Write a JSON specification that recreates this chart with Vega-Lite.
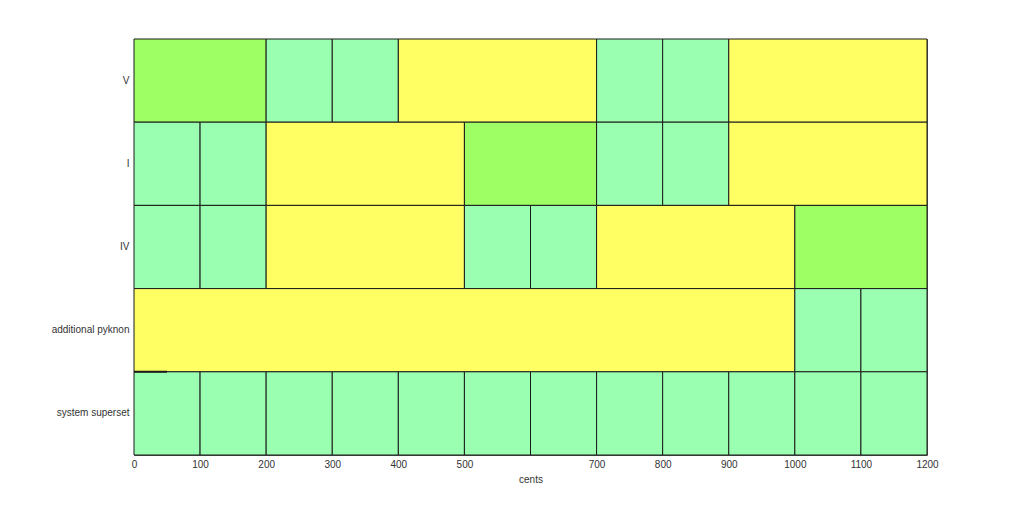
{
  "$schema": "https://vega.github.io/schema/vega-lite/v6.json",
  "width": 793,
  "height": 416,
  "autosize": {"type": "none"},
  "padding": {"left": 134, "top": 39, "right": 97, "bottom": 57},
  "background": "white",
  "config": {
    "view": {"stroke": "#555555", "strokeWidth": 1},
    "font": "Liberation Sans"
  },
  "datasets": {
    "cells": [
      {"row": "V", "start": 0, "end": 200, "kind": "root"},
      {"row": "V", "start": 200, "end": 300, "kind": "step"},
      {"row": "V", "start": 300, "end": 400, "kind": "step"},
      {"row": "V", "start": 400, "end": 700, "kind": "gap"},
      {"row": "V", "start": 700, "end": 800, "kind": "step"},
      {"row": "V", "start": 800, "end": 900, "kind": "step"},
      {"row": "V", "start": 900, "end": 1200, "kind": "gap"},
      {"row": "I", "start": 0, "end": 100, "kind": "step"},
      {"row": "I", "start": 100, "end": 200, "kind": "step"},
      {"row": "I", "start": 200, "end": 500, "kind": "gap"},
      {"row": "I", "start": 500, "end": 700, "kind": "root"},
      {"row": "I", "start": 700, "end": 800, "kind": "step"},
      {"row": "I", "start": 800, "end": 900, "kind": "step"},
      {"row": "I", "start": 900, "end": 1200, "kind": "gap"},
      {"row": "IV", "start": 0, "end": 100, "kind": "step"},
      {"row": "IV", "start": 100, "end": 200, "kind": "step"},
      {"row": "IV", "start": 200, "end": 500, "kind": "gap"},
      {"row": "IV", "start": 500, "end": 600, "kind": "step"},
      {"row": "IV", "start": 600, "end": 700, "kind": "step"},
      {"row": "IV", "start": 700, "end": 1000, "kind": "gap"},
      {"row": "IV", "start": 1000, "end": 1200, "kind": "root"},
      {"row": "additional pyknon", "start": 0, "end": 1000, "kind": "gap"},
      {"row": "additional pyknon", "start": 1000, "end": 1100, "kind": "step"},
      {"row": "additional pyknon", "start": 1100, "end": 1200, "kind": "step"},
      {"row": "system superset", "start": 0, "end": 100, "kind": "step"},
      {"row": "system superset", "start": 100, "end": 200, "kind": "step"},
      {"row": "system superset", "start": 200, "end": 300, "kind": "step"},
      {"row": "system superset", "start": 300, "end": 400, "kind": "step"},
      {"row": "system superset", "start": 400, "end": 500, "kind": "step"},
      {"row": "system superset", "start": 500, "end": 600, "kind": "step"},
      {"row": "system superset", "start": 600, "end": 700, "kind": "step"},
      {"row": "system superset", "start": 700, "end": 800, "kind": "step"},
      {"row": "system superset", "start": 800, "end": 900, "kind": "step"},
      {"row": "system superset", "start": 900, "end": 1000, "kind": "step"},
      {"row": "system superset", "start": 1000, "end": 1100, "kind": "step"},
      {"row": "system superset", "start": 1100, "end": 1200, "kind": "step"}
    ],
    "mark": [
      {"row": "system superset", "start": 0, "end": 50}
    ]
  },
  "layer": [
    {
      "data": {"name": "cells"},
      "mark": {"type": "rect", "stroke": "#1a1a1a", "strokeWidth": 1},
      "encoding": {
        "x": {
          "field": "start", "type": "quantitative",
          "scale": {"domain": [0, 1200], "nice": false, "zero": false},
          "axis": {
            "title": "cents", "values": [0, 100, 200, 300, 400, 500, 700, 800, 900, 1000, 1100, 1200],
            "format": "d", "labelFlush": false,
            "grid": false, "ticks": false, "domain": false,
            "labelFontSize": 10, "labelColor": "#333333", "labelPadding": 4,
            "titleFontSize": 10, "titleFontWeight": "normal", "titleColor": "#333333", "titlePadding": 5
          }
        },
        "x2": {"field": "end"},
        "y": {
          "field": "row", "type": "nominal",
          "sort": ["V", "I", "IV", "additional pyknon", "system superset"],
          "scale": {"paddingInner": 0, "paddingOuter": 0},
          "axis": {
            "title": null, "ticks": false, "domain": false,
            "labelFontSize": 10, "labelColor": "#333333", "labelPadding": 5
          }
        },
        "color": {
          "field": "kind", "type": "nominal",
          "scale": {"domain": ["root", "step", "gap"], "range": ["#9EFF64", "#9AFFB0", "#FFFF64"]},
          "legend": null
        }
      }
    },
    {
      "data": {"name": "mark"},
      "mark": {"type": "rule", "stroke": "#1a1a1a", "strokeWidth": 2},
      "encoding": {
        "x": {"field": "start", "type": "quantitative"},
        "x2": {"field": "end"},
        "y": {"field": "row", "type": "nominal", "bandPosition": 0,
          "sort": ["V", "I", "IV", "additional pyknon", "system superset"]}
      }
    }
  ]
}
